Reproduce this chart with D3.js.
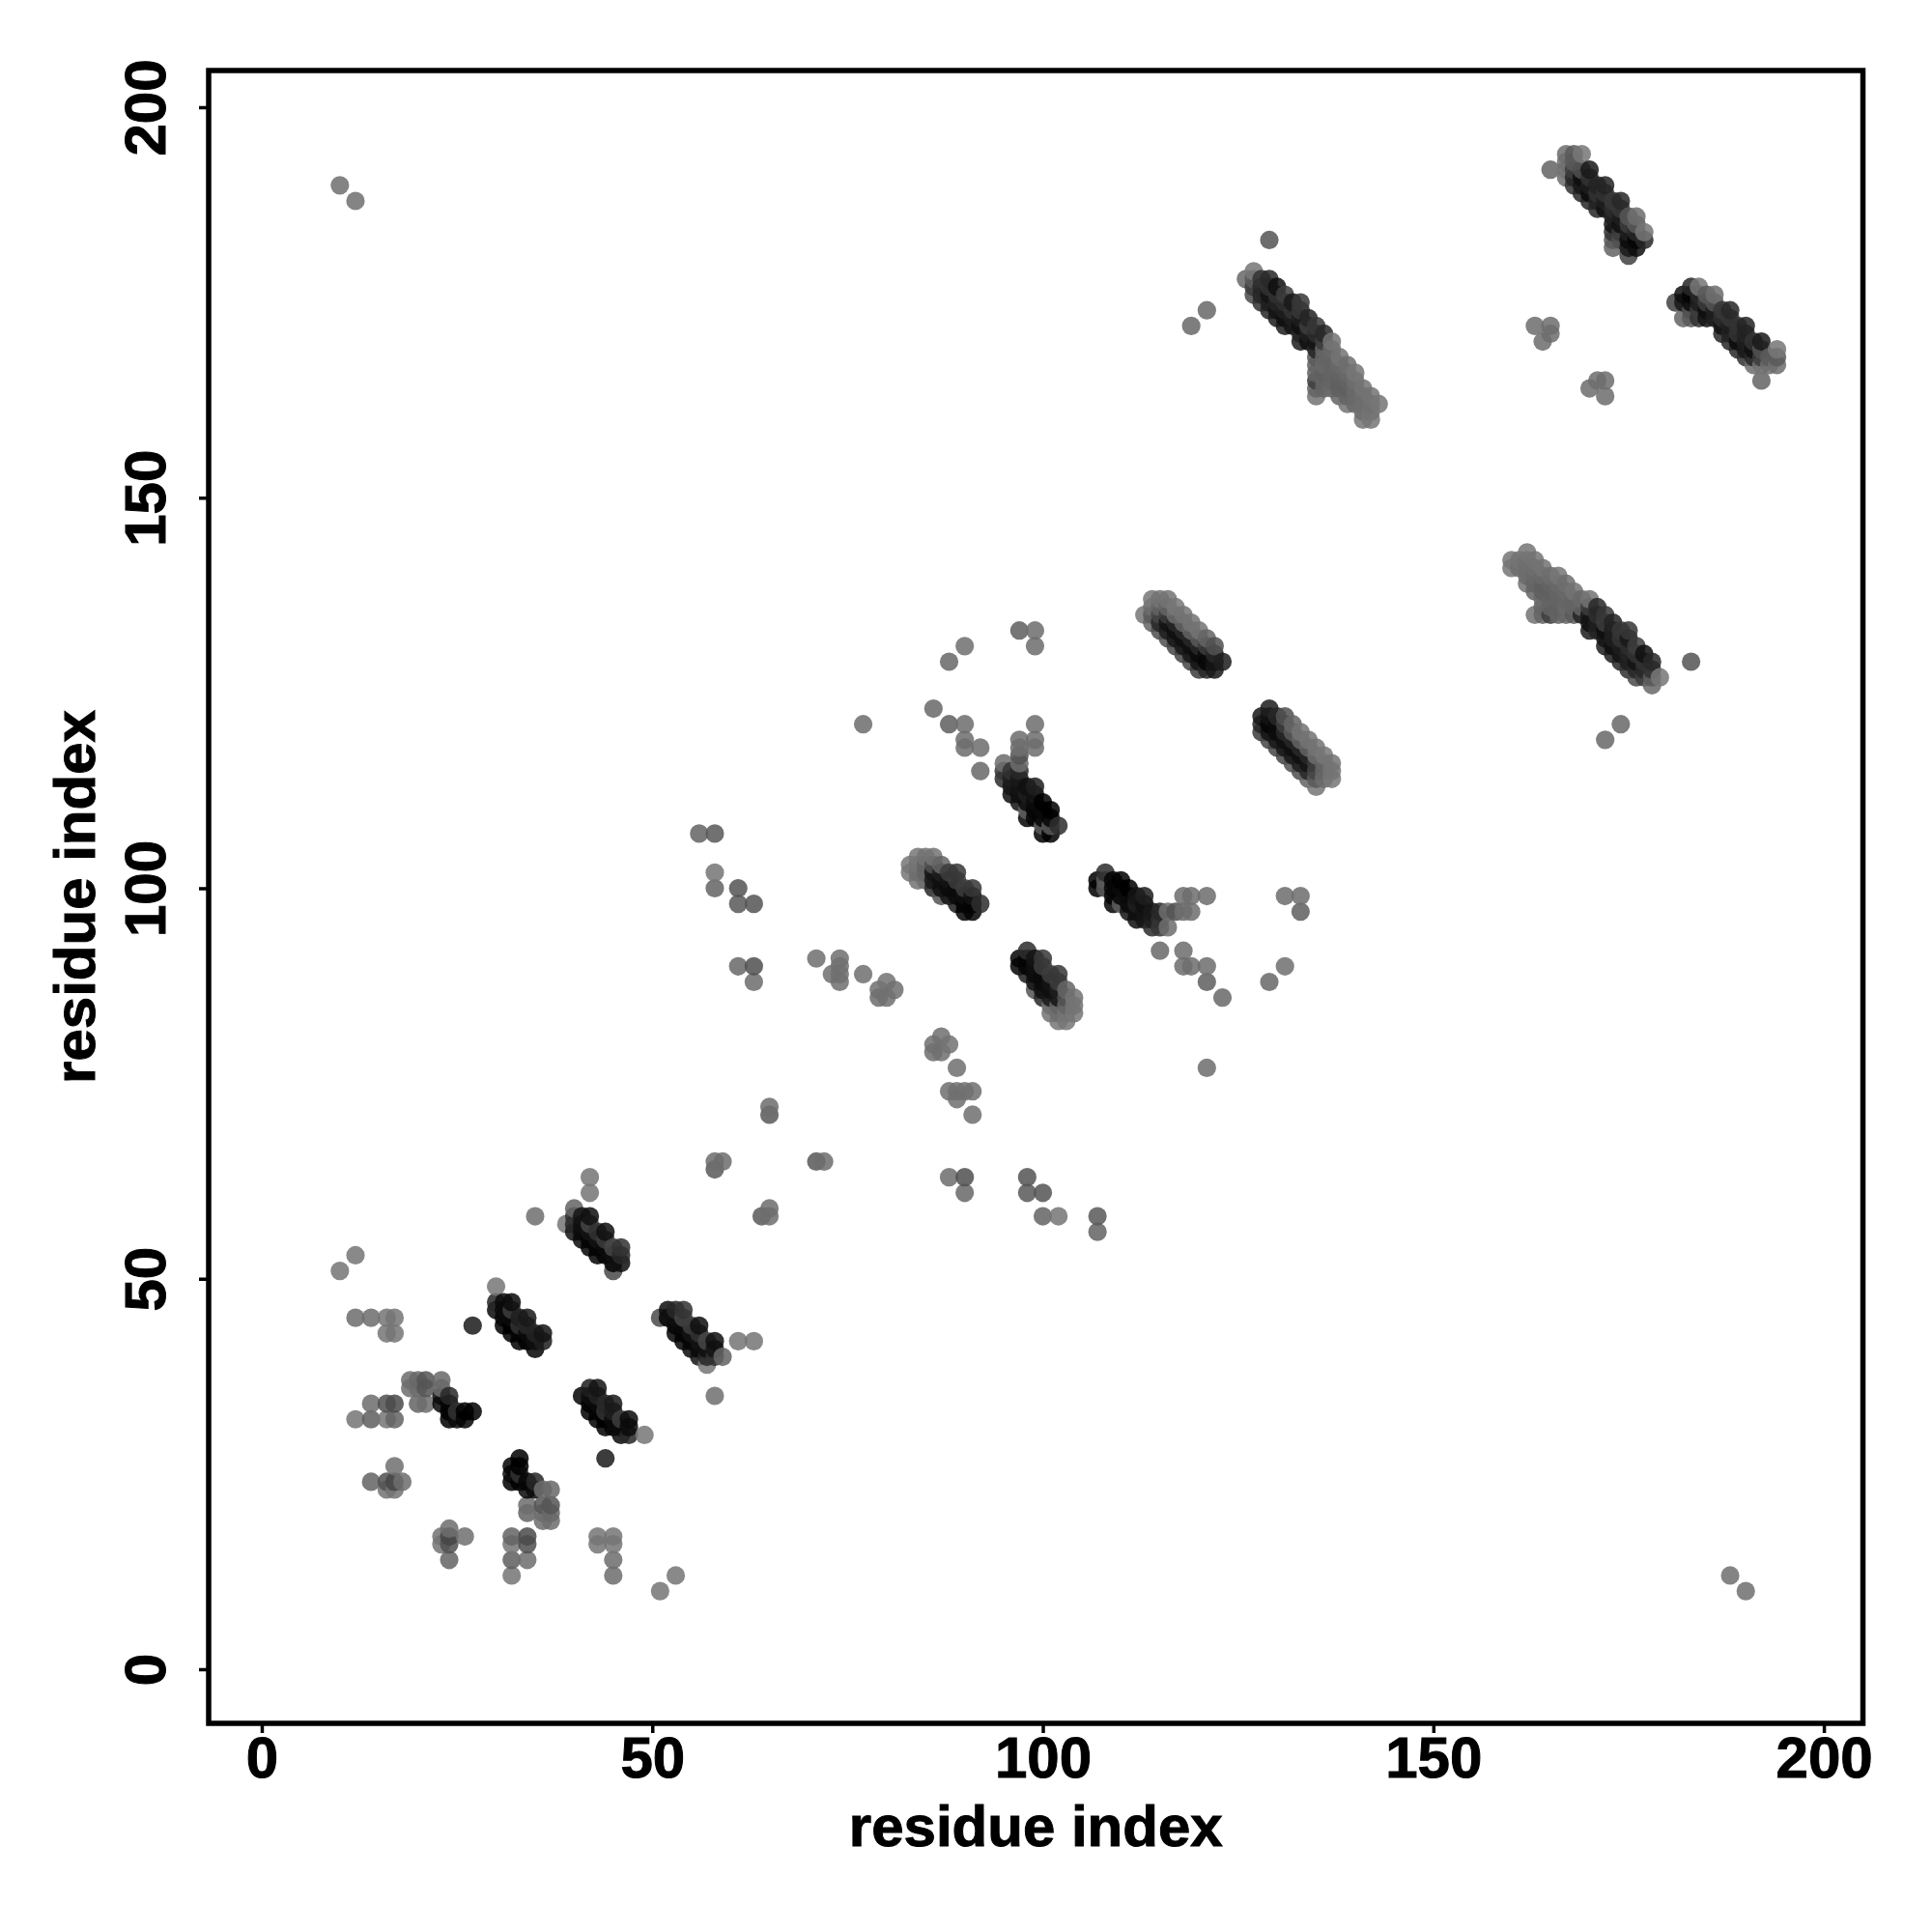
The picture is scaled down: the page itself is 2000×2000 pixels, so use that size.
<!DOCTYPE html>
<html><head><meta charset="utf-8">
<script src="https://cdn.jsdelivr.net/npm/d3@7"></script>
<style>html,body{margin:0;padding:0;background:#fff}</style></head>
<body><svg id="c" width="2000" height="2000"></svg>
<script>
// [residue i, residue j, grey level] for i<j; the map is symmetric
const farContacts=[[10,190,112],[12,188,112],[129,183,85],[119,172,105],[121,174,105],[163,172,110],[165,172,110],[165,171,110],[164,170,110]];
const nTermContacts=[[10,51,118],[12,53,118],[12,45,110],[14,45,110],[16,45,118],[17,45,118],[16,43,118],[17,43,118],[12,32,118],[14,32,95],[16,32,118],[17,32,100],[14,34,110],[16,34,80],[17,34,75],[14,24,100],[16,23,115],[17,23,115],[16,24,80],[17,24,70],[18,24,110],[17,26,112],[35,58,112],[27,44,28],[42,61,118],[42,63,118]];
const hairpinA=[[19,37,110],[19,36,110],[20,37,105],[20,36,110],[20,34,100],[21,37,85],[21,36,85],[21,34,110],[23,37,105],[23,36,110],[23,35,10],[23,34,10],[24,35,40],[24,34,5],[24,33,0],[24,32,0],[25,33,50],[25,32,10],[26,33,0],[26,32,5],[27,33,0]];
const strandB=[[30,49,119],[30,47,40],[30,46,10],[31,47,10],[31,46,10],[31,45,5],[31,44,0],[32,47,10],[32,46,60],[32,45,10],[32,44,0],[32,43,0],[33,45,30],[33,44,50],[33,43,5],[33,42,0],[34,45,25],[34,44,40],[34,43,10],[34,42,0],[35,43,35],[35,42,15],[35,41,5],[36,43,20],[36,42,30]];
const strandC=[[39,57,119],[40,59,100],[40,58,50],[40,57,40],[40,56,20],[41,58,20],[41,57,15],[41,56,10],[41,55,10],[42,58,15],[42,57,70],[42,56,20],[42,55,5],[42,54,5],[43,56,50],[43,55,20],[43,54,5],[43,53,5],[44,56,15],[44,55,60],[44,54,10],[44,53,5],[45,54,70],[45,53,15],[45,52,5],[45,51,75],[46,54,50],[46,53,40],[46,52,15]];
const midContacts=[[56,107,100],[58,107,90],[58,102,118],[58,100,100],[61,100,85],[61,98,90],[63,98,85],[61,90,105],[63,90,80],[63,88,110],[71,91,112],[74,91,112],[74,90,112],[73,89,112],[74,89,112],[74,88,112],[77,89,112],[79,87,112],[81,87,112],[80,88,115],[79,86,110],[80,86,112],[77,121,110],[86,123,105],[88,121,95],[90,121,110],[90,119,110],[90,118,110],[92,118,110],[92,115,105],[90,131,112],[88,129,105],[97,133,95],[99,133,110],[99,131,110],[99,121,110],[99,119,110],[99,118,110],[95,116,110],[97,116,110],[97,117,80],[97,118,110],[97,119,110],[58,64,90],[58,65,110],[59,65,110],[65,71,90],[65,72,110]];
const strandD=[[83,103,119],[83,102,119],[84,104,119],[84,103,115],[84,102,110],[84,101,115],[85,104,115],[85,103,100],[85,102,100],[85,101,110],[86,104,115],[86,103,80],[86,102,20],[86,101,25],[86,100,40],[87,103,100],[87,102,30],[87,101,15],[87,100,15],[87,99,85],[88,102,60],[88,101,20],[88,100,10],[88,99,20],[89,102,55],[89,101,60],[89,100,10],[89,99,10],[89,98,30],[90,100,60],[90,99,15],[90,98,5],[90,97,5],[91,100,55],[91,99,20],[91,98,5],[91,97,5],[92,98,45]];
const strandE=[[95,115,55],[95,114,45],[96,115,50],[96,114,30],[96,113,20],[96,112,15],[97,115,40],[97,114,25],[97,113,20],[97,112,15],[97,111,20],[98,113,15],[98,112,30],[98,111,10],[98,110,95],[98,109,5],[99,113,30],[99,112,20],[99,111,10],[99,110,5],[99,109,5],[100,111,0],[100,110,10],[100,109,5],[100,108,90],[100,107,0],[101,110,0],[101,109,5],[101,108,90],[101,107,0],[102,108,45]];
const strandF=[[113,135,119],[114,137,119],[114,136,110],[114,135,90],[114,134,100],[115,137,115],[115,136,100],[115,135,70],[115,134,40],[115,133,80],[116,137,115],[116,136,100],[116,135,60],[116,134,20],[116,133,30],[116,132,80],[117,136,119],[117,135,110],[117,134,40],[117,133,15],[117,132,25],[117,131,70],[118,135,115],[118,134,100],[118,133,40],[118,132,15],[118,131,25],[118,130,70],[119,134,115],[119,133,100],[119,132,40],[119,131,15],[119,130,25],[119,129,70],[120,133,115],[120,132,90],[120,131,40],[120,130,10],[120,129,20],[120,128,60],[121,132,100],[121,131,60],[121,130,10],[121,129,5],[121,128,40],[122,131,80],[122,130,40],[122,129,20],[122,128,25],[123,129,30]];
const strandG=[[126,178,105],[127,179,119],[127,178,90],[127,177,60],[127,176,75],[128,178,50],[128,177,40],[128,176,40],[128,175,50],[129,178,40],[129,177,50],[129,176,20],[129,175,30],[129,174,40],[130,177,15],[130,176,50],[130,175,35],[130,174,20],[130,173,30],[131,176,60],[131,175,45],[131,174,30],[131,173,15],[131,172,30],[132,175,25],[132,174,50],[132,173,30],[132,172,20],[133,175,55],[133,174,55],[133,173,30],[133,172,15],[133,171,35],[133,170,30],[134,173,35],[134,172,60],[134,171,30],[134,170,15],[135,172,55],[135,171,45],[135,170,20],[135,169,35],[135,168,90],[135,167,100],[135,166,100],[135,165,60],[135,164,100],[135,163,115],[136,171,40],[136,170,60],[136,169,100],[136,168,100],[136,167,105],[136,166,95],[136,165,100],[136,164,100],[137,170,115],[137,169,105],[137,168,100],[137,167,100],[137,166,100],[137,165,100],[137,164,105],[138,168,115],[138,167,105],[138,166,100],[138,165,95],[138,164,95],[138,163,100],[139,167,110],[139,166,105],[139,165,100],[139,164,95],[139,163,100],[139,162,115],[140,166,118],[140,165,110],[140,164,105],[140,163,105],[140,162,105],[141,164,115],[141,163,110],[141,162,110],[141,161,110],[141,160,118],[142,163,115],[142,162,112],[142,161,115],[142,160,118],[143,162,118]];
const strandH=[[165,192,100],[167,194,110],[167,193,110],[167,192,115],[167,191,110],[168,194,90],[168,193,90],[168,192,60],[168,191,40],[168,190,50],[169,194,119],[169,192,80],[169,191,15],[169,190,25],[169,189,40],[170,192,25],[170,191,50],[170,190,30],[170,189,10],[170,188,40],[171,190,35],[171,189,50],[171,188,35],[171,187,40],[172,190,35],[172,189,50],[172,188,30],[172,187,15],[173,188,55],[173,187,45],[173,186,30],[173,185,20],[173,184,50],[173,183,90],[173,182,100],[174,188,40],[174,187,55],[174,186,30],[174,185,15],[174,184,60],[174,183,80],[175,186,85],[175,185,60],[175,184,30],[175,183,10],[175,182,25],[175,181,65],[176,186,110],[176,185,90],[176,184,40],[176,183,5],[176,182,15],[177,184,118],[177,183,40]];
const tickValues=[0,50,100,150,200];
const axisTitle="residue index";

const upper=[].concat(farContacts,nTermContacts,hairpinA,strandB,strandC,midContacts,strandD,strandE,strandF,strandG,strandH);
const contacts=upper.flatMap(([i,j,g])=>[{x:i,y:j,g},{x:j,y:i,g}])
  .sort((a,b)=>d3.ascending(a.x,b.x)||d3.ascending(a.y,b.y));

const L=216,R=1928.5,T=73,B=1784;
const x=d3.scaleLinear().domain([-6.8,205]).range([L,R]);
const y=d3.scaleLinear().domain([-6.93,204.7]).range([B,T]);
const svg=d3.select("#c");
const font="'Liberation Sans',Arial,sans-serif";

svg.append("g").selectAll("circle").data(contacts).join("circle")
  .attr("cx",d=>x(d.x)).attr("cy",d=>y(d.y)).attr("r",9.6)
  .attr("fill",d=>`rgb(${d.g},${d.g},${d.g})`).attr("fill-opacity",0.86);

const gx=svg.append("g").attr("transform",`translate(0,${B})`)
  .call(d3.axisBottom(x).tickValues(tickValues).tickSize(10).tickPadding(8));
const gy=svg.append("g").attr("transform",`translate(${L},0)`)
  .call(d3.axisLeft(y).tickValues(tickValues).tickSize(10));
gx.select(".domain").remove();gy.select(".domain").remove();
gx.selectAll("line").attr("stroke","#000").attr("stroke-width",3.5);
gy.selectAll("line").attr("stroke","#000").attr("stroke-width",3.5);
const bold=s=>s.attr("font-family",font).attr("font-weight","bold").attr("font-size",60).attr("fill","#000")
  .attr("stroke","#000").attr("stroke-width",1);
bold(gx.selectAll("text")).attr("y",0).attr("dy",null).attr("transform","translate(0,56)");
bold(gy.selectAll("text")).attr("x",null).attr("dy",null).attr("text-anchor","middle").attr("transform",`translate(${171-L},0) rotate(-90)`);

svg.append("rect").attr("x",L).attr("y",T).attr("width",R-L).attr("height",B-T)
  .attr("fill","none").attr("stroke","#000").attr("stroke-width",5.5);

bold(svg.append("text").attr("x",(L+R)/2).attr("y",1911).attr("text-anchor","middle")).text(axisTitle);
bold(svg.append("text").attr("transform",`translate(98,${(T+B)/2}) rotate(-90)`).attr("text-anchor","middle")).text(axisTitle);
</script></body></html>
